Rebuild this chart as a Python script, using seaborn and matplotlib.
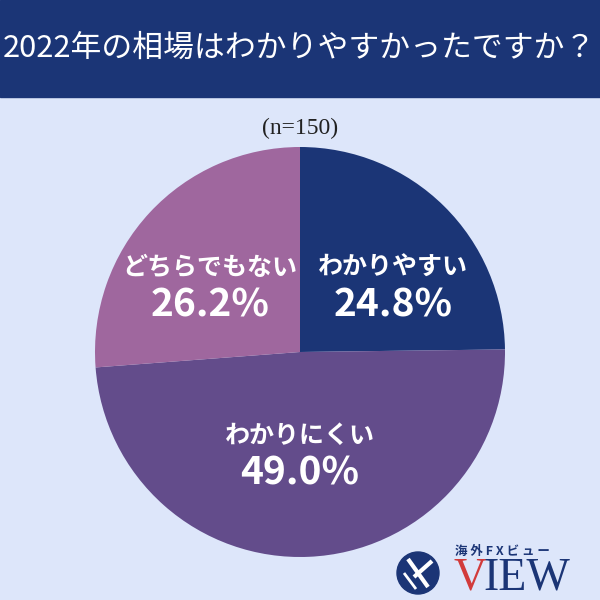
import matplotlib.pyplot as plt
import matplotlib.patches as mpatches
import seaborn as sns

# data
labels = ["わかりやすい", "わかりにくい", "どちらでもない"]
values = [24.8, 49.0, 26.2]
colors = ["#1b3576", "#634c8b", "#9f679e"]
title = "2022年の相場はわかりやすかったですか？"
note = "(n=150)"

bg = "#dde6fa"
navy = "#1b3576"

sns.set_theme(style="white")
plt.rcParams['font.family'] = ['Noto Sans CJK JP', 'DejaVu Sans']

fig = plt.figure(figsize=(6, 6), dpi=100, facecolor=bg)

# header band
fig.patches.append(mpatches.Rectangle((0, 1 - 97 / 600), 1, 97 / 600,
                                      transform=fig.transFigure, color=navy, zorder=0))
fig.text(0.004, 1 - 48 / 600, title, color="white", fontsize=22.2,
         ha="left", va="center")
fig.text(0.5, 1 - 128 / 600, note, color="#222222", fontsize=17,
         family=["Liberation Serif", "DejaVu Serif"], ha="center", va="center")

# pie
cx, cy, r = 0.5, 1 - 352 / 600, 205 / 600
ax = fig.add_axes([cx - r, cy - r, 2 * r, 2 * r])
ax.pie(values, colors=colors, startangle=90, counterclock=False, radius=1,
       wedgeprops=dict(linewidth=0))
ax.set_xlim(-1, 1)
ax.set_ylim(-1, 1)
ax.set_aspect("equal")
ax.axis("off")

# labels (in pixel coords of the figure)
pos = [(393, 268), (300, 436), (210, 268)]
for (px, py), lab, v in zip(pos, labels, values):
    fig.text(px / 600, 1 - py / 600, lab, color="white", fontsize=18,
             fontweight="bold", ha="center", va="center")
    fig.text(px / 600, 1 - (py + 37) / 600, f"{v:.1f}%", color="white",
             fontsize=28, fontweight="bold", ha="center", va="center")

# logo
lax = fig.add_axes([0, 0, 1, 1], facecolor="none")
lax.set_xlim(0, 600)
lax.set_ylim(600, 0)
lax.axis("off")
lax.add_patch(mpatches.Circle((418, 573), 21, color=navy))
lax.plot([408, 428], [559, 587], color="white", lw=3, solid_capstyle="butt")
lax.plot([414, 432], [577, 561], color="white", lw=3, solid_capstyle="butt")
lax.plot([404, 416], [573, 589], color="white", lw=2, solid_capstyle="butt")
fig.text(455 / 600, 1 - 551 / 600, "海 外 F X ビ ュ ー", color=navy, fontsize=9,
         fontweight="bold", ha="left", va="center")
fig.text(453 / 600, 1 - 590 / 600, "V", color="#d23b3b", fontsize=33,
         family=["Liberation Serif"], ha="left", va="baseline")
fig.text(483 / 600, 1 - 590 / 600, "IEW", color=navy, fontsize=33,
         family=["Liberation Serif"], ha="left", va="baseline")

fig.savefig("out.png", dpi=100, facecolor=bg)
